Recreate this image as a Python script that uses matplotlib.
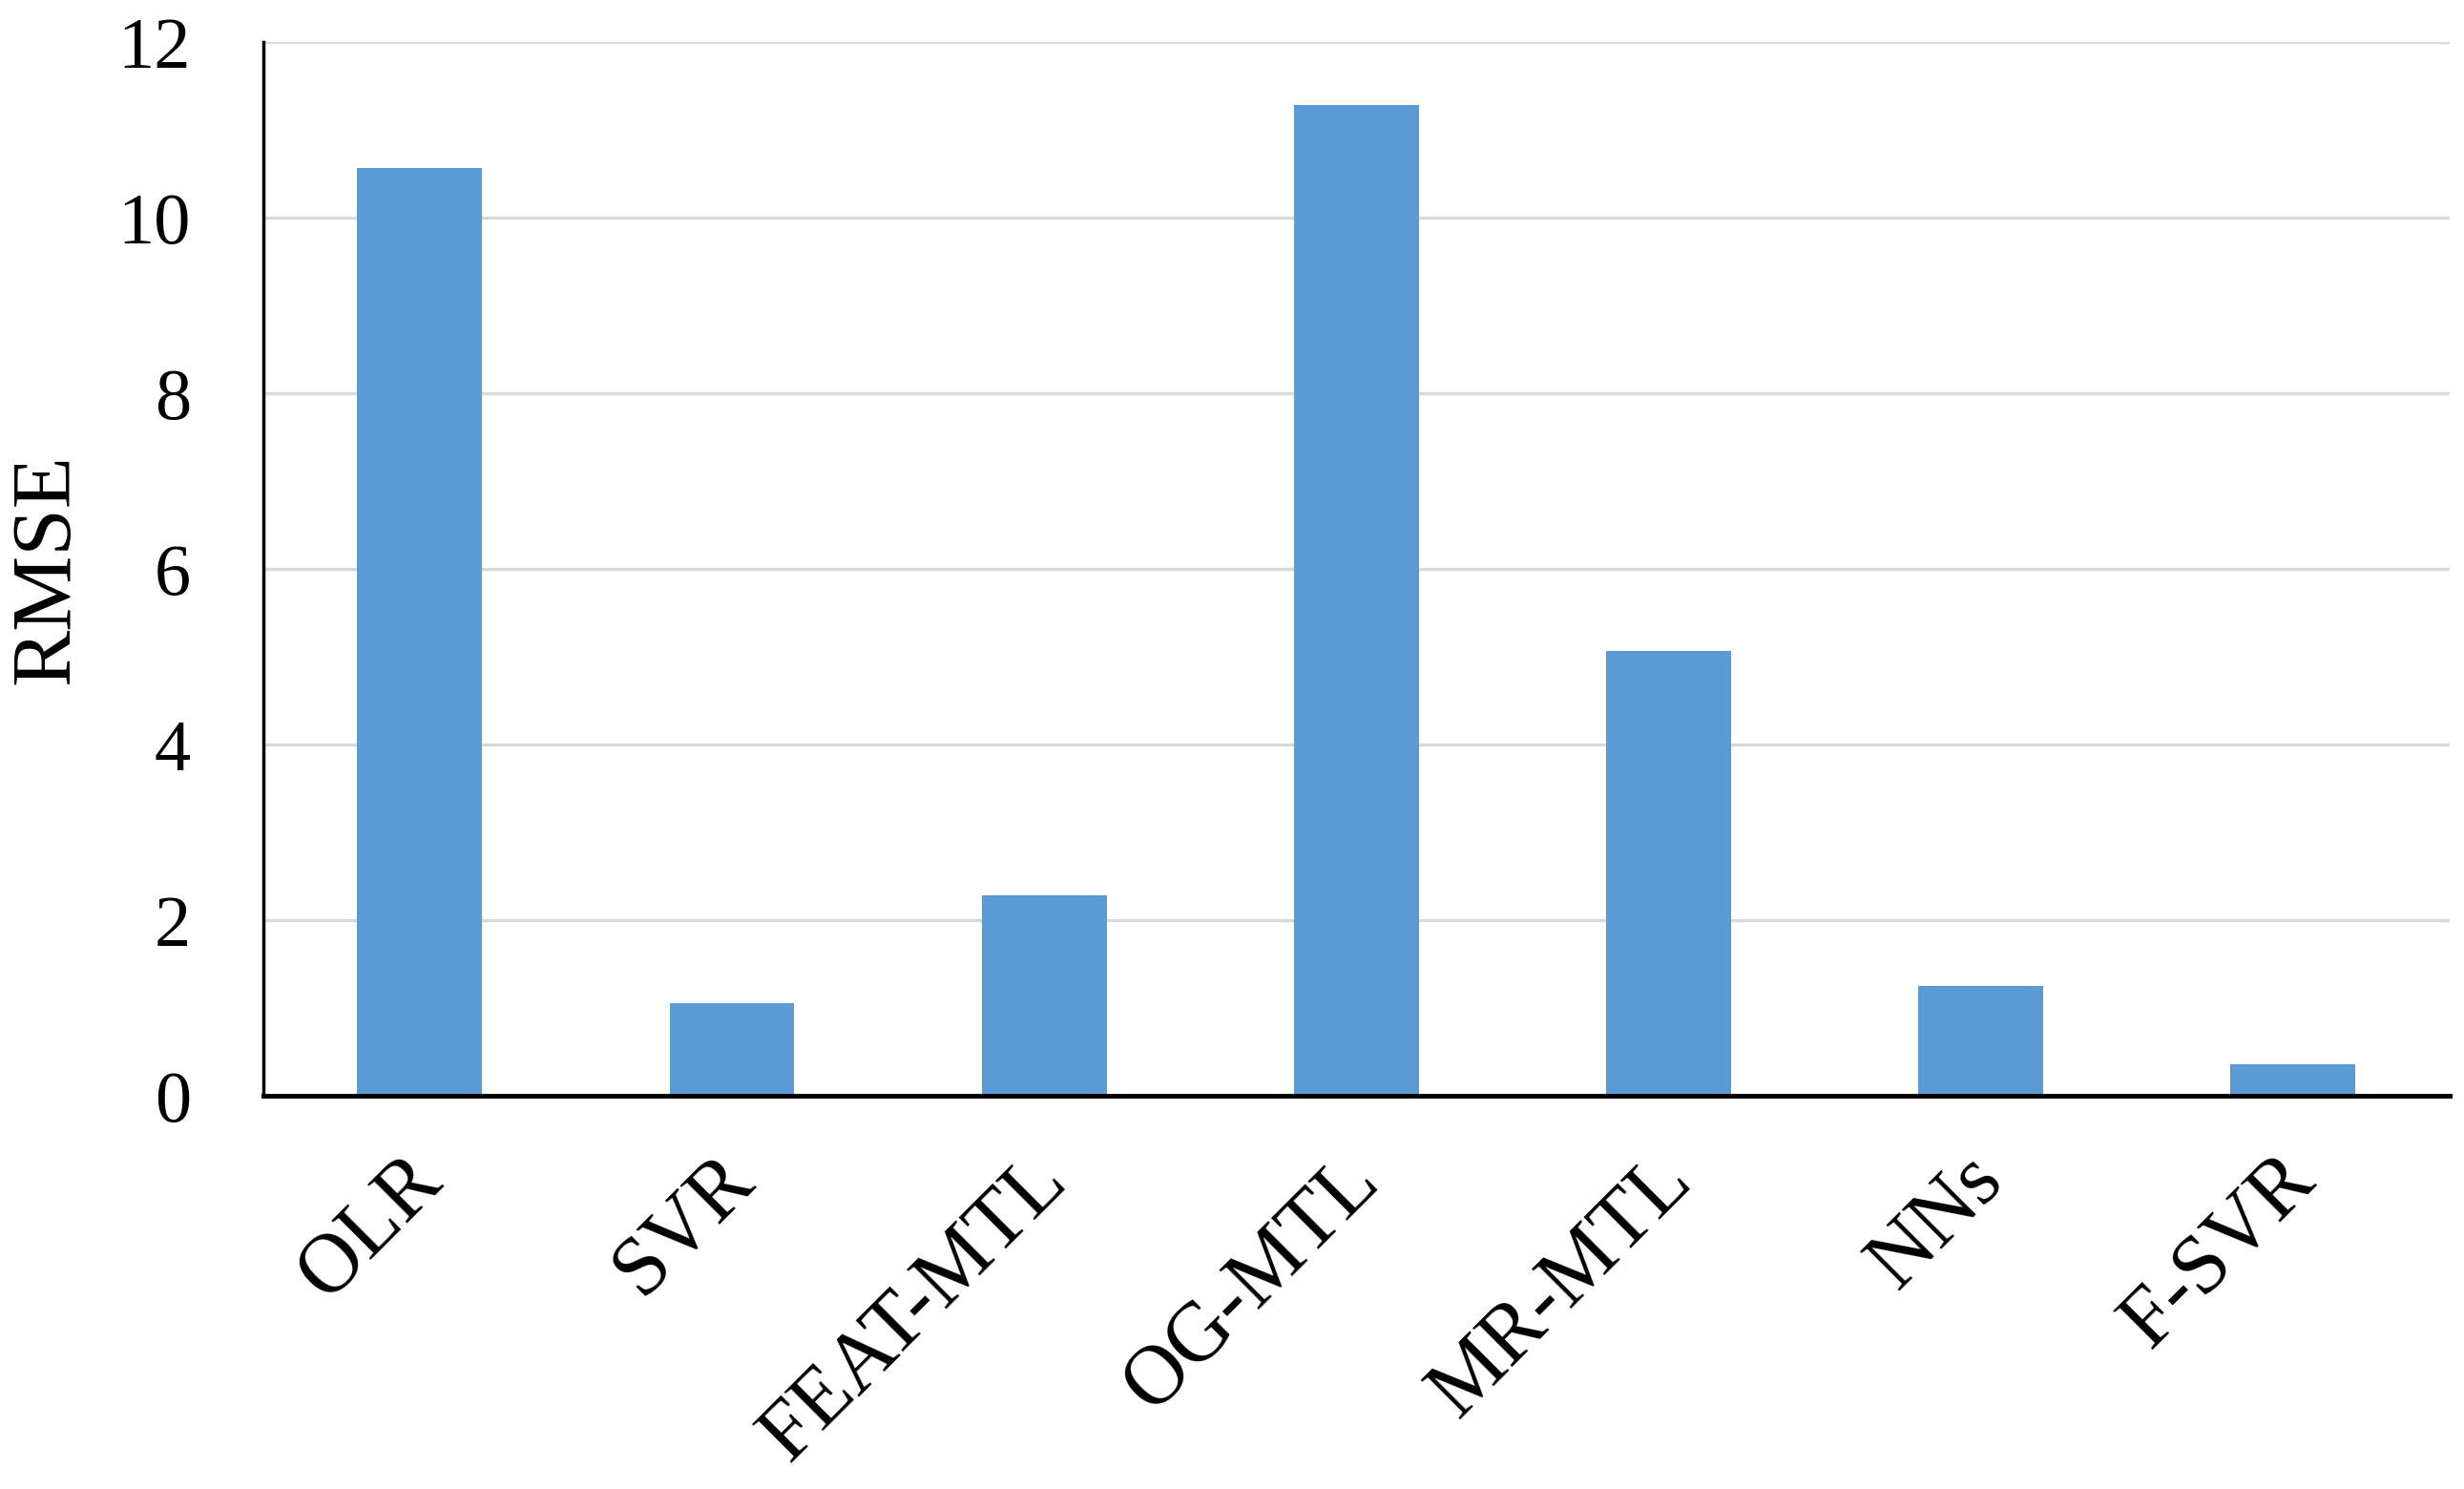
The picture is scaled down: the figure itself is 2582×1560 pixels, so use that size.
import numpy as np
import matplotlib
matplotlib.use("Agg")
import matplotlib.pyplot as plt
from matplotlib.transforms import ScaledTranslation

# 모델별 RMSE 값
models = ["OLR", "SVR", "FEAT-MTL", "OG-MTL", "MR-MTL", "NNs", "F-SVR"]
rmse = [10.57, 1.06, 2.28, 11.29, 5.07, 1.25, 0.36]
yticks = [0, 2, 4, 6, 8, 10, 12]

plt.rcParams['font.family'] = ['Liberation Serif', 'DejaVu Serif']

fig = plt.figure(figsize=(25.82, 15.6), dpi=100)
ax = fig.add_axes([0.107, 0.264, 0.887, 0.7075])

x = np.arange(len(models))
ax.bar(x, rmse, width=0.4, color='#5b9bd5', zorder=3)

ax.set_xlim(-0.5, len(models) - 0.5)
ax.set_ylim(0, 12)
ax.set_yticks(yticks)
ax.set_xticks(x)
ax.set_xticklabels(models, rotation=45, ha='right', rotation_mode='anchor')
ax.tick_params(axis='y', length=0, labelsize=55, pad=55)
ax.tick_params(axis='x', length=0, labelsize=63, pad=34)
ax.grid(axis='y', color='#d9d9d9', linewidth=2.5, zorder=0)

# 라벨을 살짝 왼쪽으로
off = ScaledTranslation(-0.18, 0.0, fig.dpi_scale_trans)
for lab in ax.get_xticklabels():
    lab.set_transform(lab.get_transform() + off)

for s in ['top', 'right']:
    ax.spines[s].set_visible(False)
ax.spines['left'].set_linewidth(2.5)
ax.spines['bottom'].set_linewidth(3.5)
ax.spines['left'].set_zorder(4)
ax.spines['bottom'].set_zorder(4)

ax.set_ylabel("RMSE", fontsize=64)
ax.yaxis.set_label_coords(-0.081, 0.5)

fig.savefig("out.png", dpi=100)
